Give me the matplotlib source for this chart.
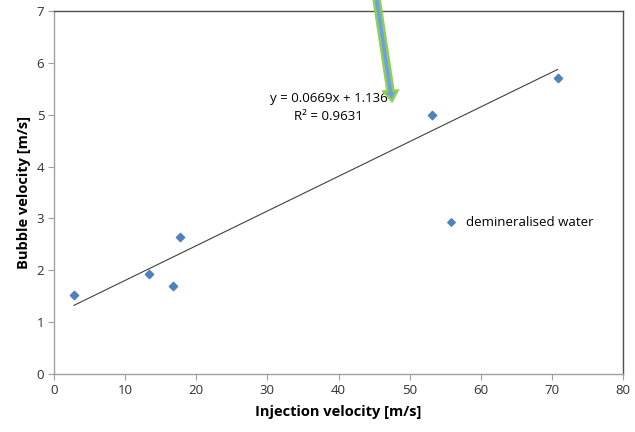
import matplotlib.pyplot as plt
from matplotlib.patches import FancyArrow

# Mesures : vitesse d'injection vs vitesse des bulles
injection = [2.8, 13.3, 16.7, 17.7, 53.1, 70.8]
bulle = [1.53, 1.93, 1.70, 2.64, 4.99, 5.70]
pente, ordonnee = 0.0669, 1.136
r2 = 0.9631
x_ticks = [0, 10, 20, 30, 40, 50, 60, 70, 80]
y_ticks = [0, 1, 2, 3, 4, 5, 6, 7]

plt.rcParams['font.family'] = ['Open Sans', 'DejaVu Sans']

fig = plt.figure(figsize=(6.35, 4.32), dpi=100)
ax = fig.add_axes([54 / 635, 1 - 374 / 432, 569 / 635, 363 / 432])

bleu = '#4F81BD'
ax.scatter(injection, bulle, marker='D', s=18, color=bleu, zorder=3,
           label='demineralised water')

# Courbe de tendance linéaire
x0, x1 = min(injection), max(injection)
ax.plot([x0, x1], [pente * x0 + ordonnee, pente * x1 + ordonnee],
        color='#404040', lw=0.8, zorder=2)

ax.text(38.6, 5.32, f'y = {pente}x + {ordonnee}', ha='center', va='center', fontsize=9.5)
ax.text(38.6, 4.97, f'R² = {r2}', ha='center', va='center', fontsize=9.5)

ax.set_xlim(0, 80)
ax.set_ylim(0, 7)
ax.set_xticks(x_ticks)
ax.set_yticks(y_ticks)
ax.tick_params(direction='out', length=4, color='#A0A0A0', labelsize=9.5,
               labelcolor='#303030', pad=3)

for s in ['left', 'bottom']:
    ax.spines[s].set_color('#A0A0A0')
for s in ['top', 'right']:
    ax.spines[s].set_color('#505050')
for s in ax.spines.values():
    s.set_linewidth(1)

ax.set_xlabel('Injection velocity [m/s]', fontsize=10.5, fontweight='bold', labelpad=6)
ax.set_ylabel('Bubble velocity [m/s]', fontsize=10.5, fontweight='bold', labelpad=4)

leg = ax.legend(loc='center left', bbox_to_anchor=(0.653, 0.418), frameon=False,
                fontsize=9.5, handletextpad=0.2, markerscale=0.9)

# Flèche qui pointe sur l'équation
fleche = FancyArrow(376 / 635, 1 + 5 / 432, (392 - 376) / 635, -(101 + 5) / 432,
                    width=6 / 635, head_width=14 / 635, head_length=10 / 432,
                    length_includes_head=True, transform=fig.transFigure,
                    facecolor='#6D9EEB', edgecolor='#8FD14F', lw=1.8, zorder=5)
fig.patches.append(fleche)

plt.savefig('out.png', dpi=100)
plt.close()
